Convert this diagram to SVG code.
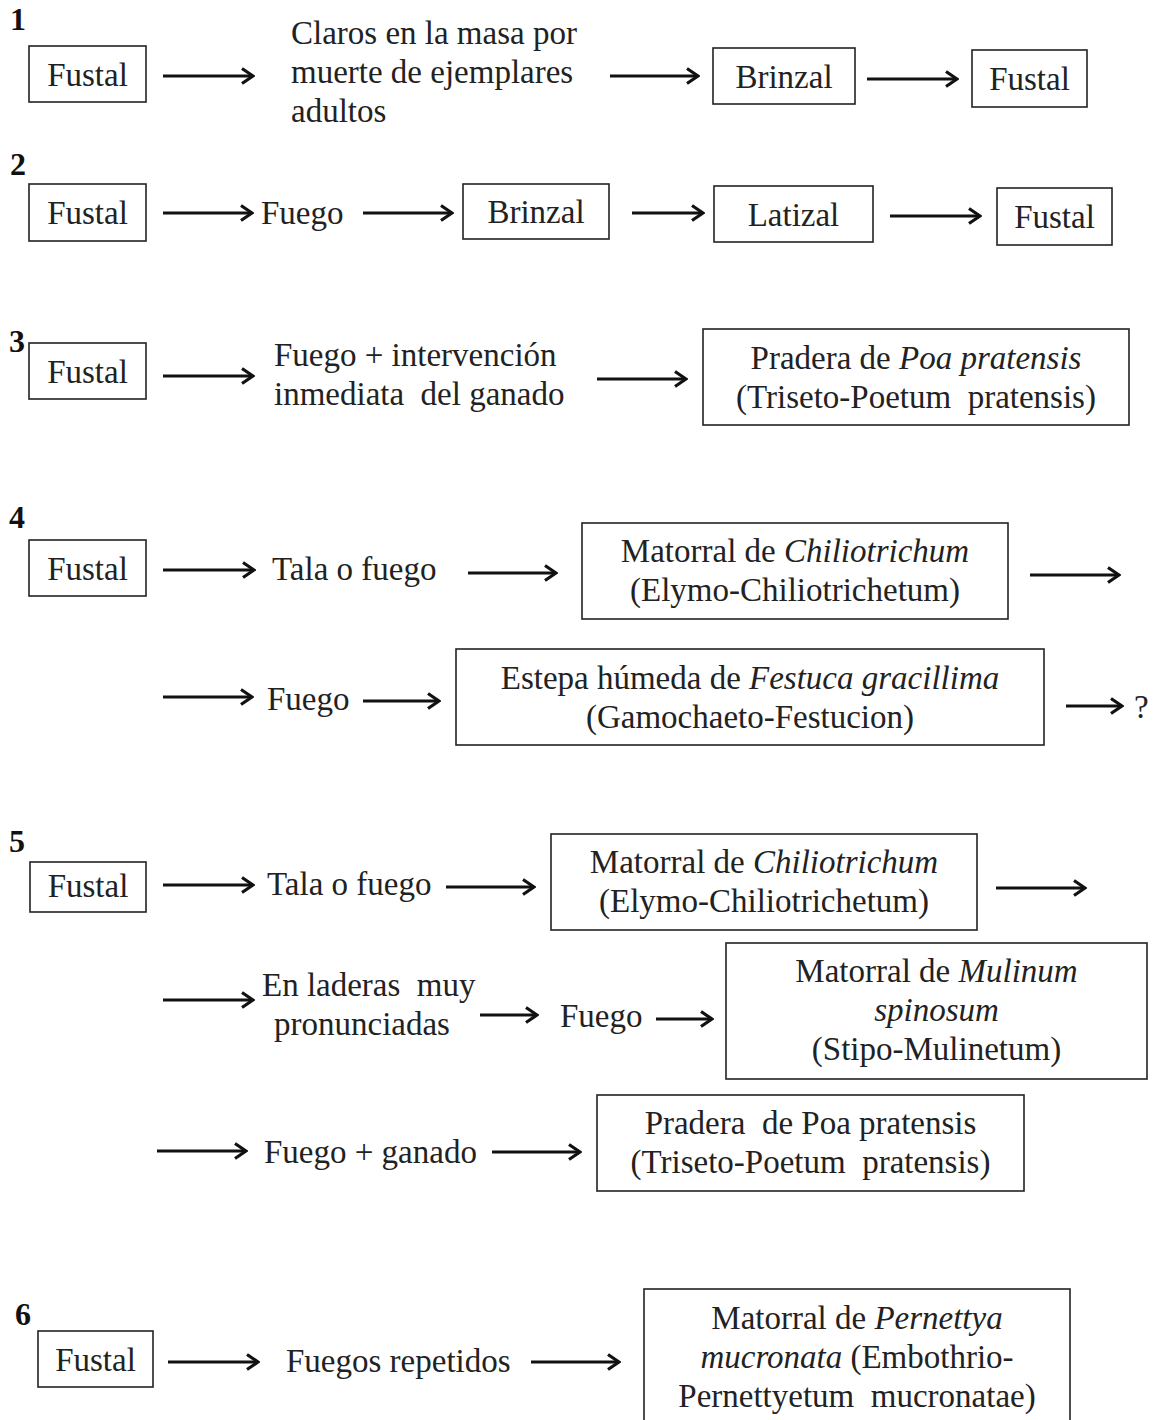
<svg xmlns="http://www.w3.org/2000/svg" width="1162" height="1420" viewBox="0 0 1162 1420">
<style>
text{font-family:"Liberation Serif","Times New Roman",serif;font-size:33px;fill:#222;white-space:pre}
.c{text-anchor:middle}
.n{font-weight:bold;font-size:32px;fill:#111}
.i{font-style:italic}
rect{fill:#fff;stroke:#222;stroke-width:1.6}
#connectors line{stroke:#111;stroke-width:3;marker-end:url(#ah)}
</style>
<defs>
<marker id="ah" viewBox="0 0 14 18" refX="12.5" refY="9" markerWidth="14" markerHeight="18" markerUnits="userSpaceOnUse" orient="auto">
<path d="M1.5,1.5 L12.5,9 L1.5,16.5" fill="none" stroke="#111" stroke-width="3.2" stroke-linejoin="miter"/>
</marker>
</defs>
<rect x="0" y="0" width="1162" height="1420" style="stroke:none"/>

<g id="labels">
<text class="n" x="10" y="30">1</text>
<text class="n" x="10" y="175">2</text>
<text class="n" x="9" y="352">3</text>
<text class="n" x="9" y="528">4</text>
<text class="n" x="9" y="852">5</text>
<text class="n" x="15" y="1325">6</text>
</g>

<g id="connectors">
<line x1="163" y1="76" x2="253" y2="76"/>
<line x1="610" y1="76" x2="698" y2="76"/>
<line x1="867" y1="79" x2="957" y2="79"/>
<line x1="163" y1="213" x2="252" y2="213"/>
<line x1="363" y1="213" x2="452" y2="213"/>
<line x1="632" y1="213" x2="703" y2="213"/>
<line x1="890" y1="216" x2="980" y2="216"/>
<line x1="163" y1="376" x2="253" y2="376"/>
<line x1="597" y1="379" x2="686" y2="379"/>
<line x1="163" y1="570" x2="254" y2="570"/>
<line x1="468" y1="573" x2="556" y2="573"/>
<line x1="1030" y1="575" x2="1119" y2="575"/>
<line x1="163" y1="697" x2="252" y2="697"/>
<line x1="363" y1="701" x2="439" y2="701"/>
<line x1="1066" y1="706" x2="1122" y2="706"/>
<line x1="163" y1="885" x2="253" y2="885"/>
<line x1="446" y1="887" x2="534" y2="887"/>
<line x1="996" y1="888" x2="1085" y2="888"/>
<line x1="163" y1="1000" x2="253" y2="1000"/>
<line x1="480" y1="1015" x2="537" y2="1015"/>
<line x1="656" y1="1019" x2="712" y2="1019"/>
<line x1="157" y1="1151" x2="246" y2="1151"/>
<line x1="492" y1="1152" x2="580" y2="1152"/>
<line x1="168" y1="1362" x2="258" y2="1362"/>
<line x1="531" y1="1362" x2="619" y2="1362"/>
</g>

<g id="n1a"><rect x="29" y="46" width="117" height="56"/><text class="c" x="87.5" y="86">Fustal</text></g>
<g id="n1b"><text x="291" y="44">Claros en la masa por</text><text x="291" y="83">muerte de ejemplares</text><text x="291" y="122">adultos</text></g>
<g id="n1c"><rect x="713" y="48" width="142" height="56"/><text class="c" x="784" y="88">Brinzal</text></g>
<g id="n1d"><rect x="972" y="50" width="115" height="57"/><text class="c" x="1029.5" y="90">Fustal</text></g>

<g id="n2a"><rect x="29" y="184" width="117" height="57"/><text class="c" x="87.5" y="224">Fustal</text></g>
<g id="n2b"><text x="261" y="224">Fuego</text></g>
<g id="n2c"><rect x="463" y="184" width="146" height="55"/><text class="c" x="536" y="223">Brinzal</text></g>
<g id="n2d"><rect x="714" y="186" width="159" height="56"/><text class="c" x="793.5" y="226">Latizal</text></g>
<g id="n2e"><rect x="997" y="188" width="115" height="57"/><text class="c" x="1054.5" y="228">Fustal</text></g>

<g id="n3a"><rect x="29" y="343" width="117" height="56"/><text class="c" x="87.5" y="383">Fustal</text></g>
<g id="n3b"><text x="274" y="366">Fuego + intervención</text><text x="274" y="405">inmediata  del ganado</text></g>
<g id="n3c"><rect x="703" y="329" width="426" height="96"/><text class="c" x="916" y="369">Pradera de <tspan class="i">Poa pratensis</tspan></text><text class="c" x="916" y="408">(Triseto-Poetum  pratensis)</text></g>

<g id="n4a"><rect x="29" y="540" width="117" height="56"/><text class="c" x="87.5" y="580">Fustal</text></g>
<g id="n4b"><text x="272" y="580">Tala o fuego</text></g>
<g id="n4c"><rect x="582" y="523" width="426" height="96"/><text class="c" x="795" y="562">Matorral de <tspan class="i">Chiliotrichum</tspan></text><text class="c" x="795" y="601">(Elymo-Chiliotrichetum)</text></g>
<g id="n4d"><text x="267" y="710">Fuego</text></g>
<g id="n4e"><rect x="456" y="649" width="588" height="96"/><text class="c" x="750" y="689">Estepa húmeda de <tspan class="i">Festuca gracillima</tspan></text><text class="c" x="750" y="728">(Gamochaeto-Festucion)</text></g>
<g id="n4f"><text x="1134" y="718">?</text></g>

<g id="n5a"><rect x="30" y="862" width="116" height="50"/><text class="c" x="88" y="897">Fustal</text></g>
<g id="n5b"><text x="267" y="895">Tala o fuego</text></g>
<g id="n5c"><rect x="551" y="834" width="426" height="96"/><text class="c" x="764" y="873">Matorral de <tspan class="i">Chiliotrichum</tspan></text><text class="c" x="764" y="912">(Elymo-Chiliotrichetum)</text></g>
<g id="n5d"><text x="262" y="996">En laderas  muy</text><text class="c" x="362" y="1035">pronunciadas</text></g>
<g id="n5e"><text x="560" y="1027">Fuego</text></g>
<g id="n5f"><rect x="726" y="943" width="421" height="136"/><text class="c" x="936.5" y="982">Matorral de <tspan class="i">Mulinum</tspan></text><text class="c i" x="936.5" y="1021">spinosum</text><text class="c" x="936.5" y="1060">(Stipo-Mulinetum)</text></g>
<g id="n5g"><text x="264" y="1163">Fuego + ganado</text></g>
<g id="n5h"><rect x="597" y="1095" width="427" height="96"/><text class="c" x="810.5" y="1134">Pradera  de Poa pratensis</text><text class="c" x="810.5" y="1173">(Triseto-Poetum  pratensis)</text></g>

<g id="n6a"><rect x="38" y="1331" width="115" height="56"/><text class="c" x="95.5" y="1371">Fustal</text></g>
<g id="n6b"><text x="286" y="1372">Fuegos repetidos</text></g>
<g id="n6c"><rect x="644" y="1289" width="426" height="135"/><text class="c" x="857" y="1329">Matorral de <tspan class="i">Pernettya</tspan></text><text class="c" x="857" y="1368"><tspan class="i">mucronata</tspan> (Embothrio-</text><text class="c" x="857" y="1407">Pernettyetum  mucronatae)</text></g>
</svg>
